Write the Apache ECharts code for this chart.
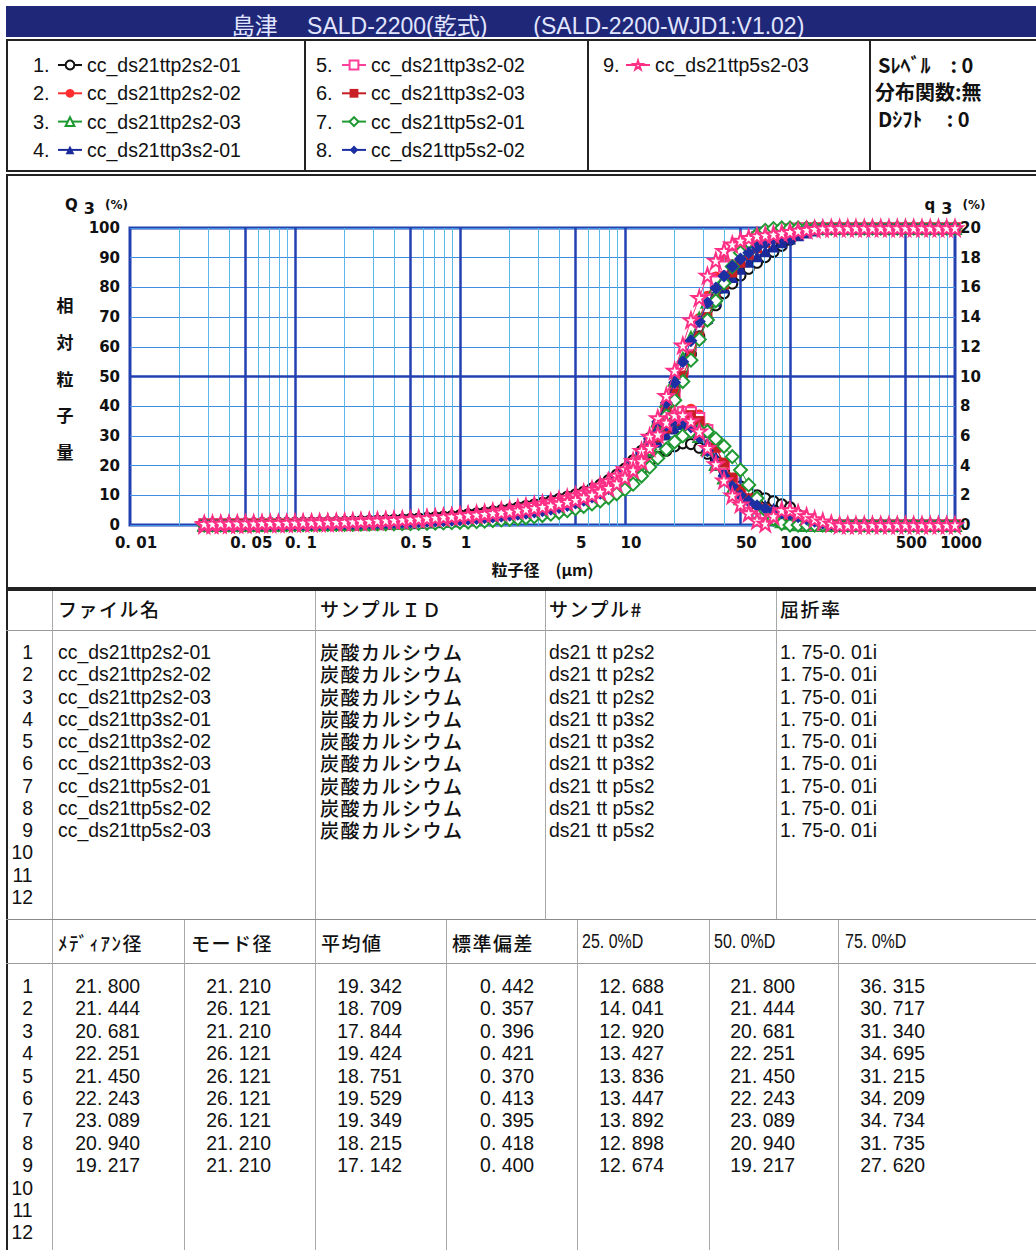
<!DOCTYPE html>
<html><head><meta charset="utf-8">
<script src="https://cdn.jsdelivr.net/npm/echarts@6.0.0/dist/echarts.min.js"></script>
<style>
html,body{margin:0;padding:0;background:#fff;}
body{width:1036px;height:1250px;position:relative;overflow:hidden;}
#chart{position:absolute;left:0;top:0;width:1036px;height:590px;}
#tables{position:absolute;left:0;top:0;width:1036px;height:1250px;pointer-events:none;}
.t{position:absolute;line-height:1;white-space:nowrap;color:#111;}
.n{font-family:"Liberation Sans",Arial,sans-serif;font-size:19.8px;height:20px;transform:translateY(-50%) scaleX(0.98);transform-origin:0 50%;}
.n.r{transform-origin:100% 50%;}
.nh{font-family:"Liberation Sans",Arial,sans-serif;font-size:19.5px;height:20px;transform:translateY(-50%) scaleX(0.82);transform-origin:0 50%;}
.j{font-family:"Noto Sans CJK JP",sans-serif;font-size:19px;height:19px;letter-spacing:1.5px;font-weight:500;transform:translateY(-50%);}
.jr{font-family:"Liberation Sans","Noto Sans CJK JP",sans-serif;font-size:19px;height:19px;letter-spacing:1.5px;font-weight:500;transform:translateY(-50%);}
.ln{position:absolute;}
</style></head>
<body>
<div id="chart"></div>
<div id="tables"></div>
<script>
// ---------------- data ----------------
const seriesNames = ['cc_ds21ttp2s2-01','cc_ds21ttp2s2-02','cc_ds21ttp2s2-03','cc_ds21ttp3s2-01','cc_ds21ttp3s2-02','cc_ds21ttp3s2-03','cc_ds21ttp5s2-01','cc_ds21ttp5s2-02','cc_ds21ttp5s2-03'];

// particle size channels (µm)
const sizes = [0.0282,0.0316,0.0355,0.0398,0.0447,0.0501,0.0562,0.0631,0.0708,0.0794,0.0891,
 0.1,0.112,0.126,0.141,0.158,0.178,0.2,0.224,0.251,0.282,
 0.316,0.355,0.398,0.447,0.501,0.562,0.631,0.708,0.794,0.891,
 1,1.12,1.26,1.41,1.58,1.78,2,2.24,2.51,2.82,3.16,3.55,3.98,4.47,5.01,5.62,6.31,7.08,7.94,8.91,
 10,11.2,12.6,14.1,15.8,17.8,20,22.4,25.1,28.2,31.6,35.5,39.8,44.7,50.1,56.2,63.1,70.8,79.4,89.1,
 100,112,126,141,158,178,200,224,251,282,316,355,398,447,501,562,631,708,794,891,1000];

// cumulative Q3 (%)
const Q1 = [0,0.05,0.1,0.15,0.2,0.25,0.3,0.35,0.4,0.45,0.5,
 0.55,0.6,0.65,0.7,0.8,0.9,1.0,1.1,1.2,1.3,
 1.4,1.55,1.7,1.85,2.0,2.2,2.4,2.6,2.8,3.0,
 3.3,3.6,3.9,4.2,4.6,5.0,5.4,5.9,6.4,6.9,7.5,8.1,8.8,9.5,10.3,11.2,12.3,13.6,15.1,16.9,
 19.0,21.8,25.0,29.3,34.0,39.5,45.5,51.5,57.5,63.5,69.0,74.0,78.0,81.3,84.0,86.3,88.3,90.2,92.0,94.0,
 96.0,98.0,99.3,99.8,100,100,100,100,100,100,100,100,100,100,100,100,100,100,100,100,100];
const Q2 = [0,0.03,0.06,0.09,0.12,0.15,0.18,0.21,0.24,0.27,0.3,
 0.33,0.36,0.4,0.44,0.48,0.52,0.57,0.62,0.68,0.74,
 0.8,0.87,0.95,1.03,1.12,1.22,1.33,1.45,1.58,1.72,
 1.9,2.1,2.3,2.5,2.75,3.0,3.3,3.6,3.95,4.3,4.7,5.2,5.7,6.3,7.0,7.8,8.7,9.8,11.1,12.7,
 14.6,17.0,20.5,25.0,30.5,37.0,44.5,52.5,61.0,69.5,77.0,83.5,88.5,92.0,94.5,96.2,97.4,98.3,98.9,99.3,
 99.6,99.8,99.9,100,100,100,100,100,100,100,100,100,100,100,100,100,100,100,100,100,100];
const Q3 = [0,0.03,0.06,0.09,0.12,0.15,0.18,0.21,0.24,0.27,0.3,
 0.33,0.36,0.4,0.44,0.48,0.52,0.57,0.62,0.68,0.74,
 0.8,0.87,0.95,1.03,1.12,1.22,1.33,1.45,1.58,1.72,
 1.85,2.05,2.25,2.45,2.7,2.95,3.25,3.55,3.9,4.3,4.75,5.25,5.85,6.5,7.3,8.2,9.3,10.6,12.2,14.1,
 16.4,19.6,23.9,29.2,35.2,41.8,48.9,56.0,63.0,69.5,75.2,80.2,84.6,88.2,91.3,93.8,95.7,97.0,98.0,98.7,
 99.2,99.6,99.9,100,100,100,100,100,100,100,100,100,100,100,100,100,100,100,100,100,100];
const Q4 = [0,0.03,0.05,0.07,0.09,0.11,0.13,0.15,0.18,0.21,0.24,
 0.27,0.3,0.33,0.36,0.4,0.44,0.48,0.52,0.57,0.62,
 0.67,0.73,0.79,0.86,0.93,1.01,1.1,1.2,1.31,1.45,
 1.6,1.8,2.0,2.2,2.4,2.65,2.9,3.2,3.5,3.85,4.25,4.7,5.2,5.8,6.5,7.3,8.2,9.3,10.6,12.2,
 14.2,17.0,21.5,26.8,32.3,38.0,44.0,50.3,56.8,63.5,69.8,75.5,80.0,83.5,86.3,88.6,90.5,92.2,93.8,95.2,
 96.5,97.6,98.5,99.2,99.7,99.9,100,100,100,100,100,100,100,100,100,100,100,100,100,100,100];
const Q5 = [0,0.03,0.06,0.09,0.12,0.15,0.18,0.21,0.24,0.27,0.3,
 0.33,0.36,0.4,0.44,0.48,0.52,0.57,0.62,0.68,0.74,
 0.8,0.87,0.95,1.03,1.12,1.22,1.33,1.45,1.58,1.72,
 1.9,2.1,2.3,2.5,2.75,3.0,3.3,3.6,3.95,4.35,4.8,5.3,5.85,6.5,7.2,8.0,8.9,10.0,11.3,12.9,
 14.8,17.3,20.8,25.5,31.0,37.2,44.3,52.3,60.5,68.5,75.8,82.0,87.0,90.8,93.6,95.6,97.0,98.0,98.7,99.2,
 99.6,99.8,99.9,100,100,100,100,100,100,100,100,100,100,100,100,100,100,100,100,100,100];
const Q6 = [0,0.03,0.05,0.07,0.09,0.11,0.13,0.15,0.18,0.21,0.24,
 0.27,0.3,0.33,0.36,0.4,0.44,0.48,0.52,0.57,0.62,
 0.67,0.73,0.79,0.86,0.93,1.01,1.1,1.2,1.31,1.45,
 1.55,1.75,1.95,2.15,2.35,2.6,2.85,3.15,3.45,3.8,4.2,4.65,5.15,5.75,6.45,7.25,8.15,9.25,10.55,12.15,
 14.2,16.9,21.0,26.3,32.0,38.0,44.2,50.3,56.8,63.5,70.0,76.0,81.0,85.0,88.3,91.0,93.2,95.0,96.5,97.6,
 98.5,99.1,99.6,99.9,100,100,100,100,100,100,100,100,100,100,100,100,100,100,100,100,100];
const Q7 = [0,0.02,0.04,0.06,0.08,0.1,0.12,0.14,0.16,0.18,0.2,
 0.22,0.24,0.27,0.3,0.33,0.36,0.4,0.44,0.48,0.53,
 0.58,0.64,0.7,0.77,0.85,0.93,1.02,1.12,1.23,1.35,
 1.5,1.65,1.8,2.0,2.2,2.4,2.65,2.9,3.2,3.5,3.85,4.25,4.7,5.2,5.8,6.5,7.3,8.3,9.5,10.9,
 13.0,16.2,20.5,25.5,31.0,36.8,42.0,48.3,55.5,62.5,69.0,75.5,81.5,87.0,91.7,95.3,97.8,99.2,99.8,100,
 100,100,100,100,100,100,100,100,100,100,100,100,100,100,100,100,100,100,100,100,100];
const Q8 = [0,0.03,0.06,0.09,0.12,0.15,0.18,0.21,0.24,0.27,0.3,
 0.33,0.36,0.4,0.44,0.48,0.52,0.57,0.62,0.68,0.74,
 0.8,0.87,0.95,1.03,1.12,1.22,1.33,1.45,1.58,1.72,
 1.9,2.1,2.3,2.5,2.75,3.0,3.3,3.6,3.95,4.35,4.8,5.3,5.9,6.6,7.4,8.3,9.4,10.7,12.3,14.2,
 16.5,19.5,24.0,29.0,34.8,41.2,48.0,55.0,62.0,68.5,74.8,79.8,83.8,87.0,89.6,91.7,93.4,94.9,96.2,97.3,
 98.2,98.9,99.4,99.7,99.9,100,100,100,100,100,100,100,100,100,100,100,100,100,100,100,100];
const Q9 = [0,0.05,0.1,0.15,0.2,0.25,0.3,0.35,0.4,0.45,0.5,
 0.55,0.6,0.65,0.7,0.75,0.8,0.9,1.0,1.1,1.2,
 1.3,1.45,1.6,1.75,1.9,2.1,2.3,2.5,2.7,2.9,
 3.2,3.5,3.8,4.1,4.5,4.9,5.3,5.8,6.3,6.8,7.3,7.9,8.5,9.2,10.0,10.9,12.0,13.3,14.8,16.6,
 18.8,21.6,25.0,29.8,36.0,43.5,52.0,60.5,69.0,76.5,84.0,89.0,92.3,94.5,95.8,96.7,97.3,97.6,97.9,98.3,
 98.7,99.1,99.4,99.7,99.9,100,100,100,100,100,100,100,100,100,100,100,100,100,100,100,100];

// frequency q3 (%)
const q1 = [0.1,0.1,0.1,0.11,0.11,0.12,0.12,0.13,0.13,0.14,0.14,
 0.15,0.16,0.17,0.18,0.19,0.2,0.21,0.23,0.25,0.27,
 0.29,0.31,0.33,0.36,0.39,0.42,0.45,0.48,0.52,0.56,
 0.6,0.64,0.68,0.73,0.78,0.84,0.9,0.97,1.04,1.12,1.2,1.29,1.39,1.5,1.62,1.76,1.92,2.1,2.32,2.58,
 2.9,3.3,3.75,4.2,4.6,5.0,5.3,5.5,5.45,5.2,4.8,4.3,3.7,3.1,2.6,2.25,2.0,1.8,1.6,1.4,
 1.2,0.7,0.3,0.1,0,0,0,0,0,0,0,0,0,0,0,0,0,0,0,0,0];
const q2 = [0.05,0.05,0.05,0.05,0.05,0.05,0.05,0.05,0.05,0.05,0.05,
 0.05,0.06,0.06,0.07,0.07,0.08,0.08,0.09,0.1,0.11,
 0.12,0.13,0.15,0.17,0.19,0.21,0.23,0.26,0.29,0.32,
 0.35,0.4,0.45,0.5,0.55,0.6,0.68,0.76,0.85,0.95,1.05,1.15,1.3,1.45,1.6,1.8,2.0,2.25,2.55,2.9,
 3.3,3.9,4.6,5.4,6.2,6.9,7.4,7.7,7.8,7.4,6.5,5.3,4.0,2.9,2.0,1.4,1.0,0.7,0.5,0.4,
 0.3,0.2,0.1,0,0,0,0,0,0,0,0,0,0,0,0,0,0,0,0,0,0];
const q3 = [0.05,0.05,0.05,0.05,0.05,0.05,0.05,0.05,0.05,0.05,0.05,
 0.06,0.06,0.07,0.07,0.08,0.08,0.09,0.09,0.1,0.11,
 0.12,0.13,0.15,0.17,0.19,0.21,0.23,0.25,0.28,0.31,
 0.35,0.4,0.45,0.5,0.56,0.62,0.7,0.8,0.9,1.0,1.12,1.25,1.4,1.55,1.7,1.9,2.15,2.45,2.8,3.2,
 3.7,4.3,5.0,5.7,6.3,6.8,7.0,7.0,6.7,6.0,5.1,4.1,3.2,2.4,1.8,1.3,0.9,0.6,0.4,0.25,
 0.15,0.05,0,0,0,0,0,0,0,0,0,0,0,0,0,0,0,0,0,0,0];
const q4 = [0.05,0.05,0.05,0.05,0.05,0.05,0.05,0.05,0.05,0.05,0.05,
 0.05,0.05,0.06,0.06,0.07,0.07,0.08,0.08,0.09,0.1,
 0.11,0.12,0.13,0.15,0.17,0.19,0.21,0.23,0.25,0.28,
 0.3,0.35,0.4,0.45,0.5,0.56,0.63,0.7,0.8,0.9,1.0,1.12,1.25,1.4,1.55,1.72,1.92,2.15,2.45,2.8,
 3.2,3.8,4.4,5.0,5.6,6.1,6.5,6.8,6.8,6.3,5.5,4.6,3.7,2.9,2.2,1.8,1.5,1.3,1.1,0.9,
 0.75,0.55,0.35,0.2,0.1,0,0,0,0,0,0,0,0,0,0,0,0,0,0,0,0];
const q5 = [0.06,0.06,0.06,0.06,0.06,0.06,0.06,0.06,0.06,0.06,0.06,
 0.06,0.07,0.07,0.08,0.08,0.09,0.1,0.11,0.12,0.13,
 0.14,0.15,0.17,0.19,0.21,0.23,0.25,0.28,0.31,0.33,
 0.35,0.4,0.45,0.5,0.56,0.62,0.7,0.78,0.87,0.97,1.08,1.2,1.34,1.5,1.66,1.85,2.05,2.3,2.6,2.95,
 3.4,4.0,4.7,5.4,6.1,6.8,7.3,7.6,7.6,7.2,6.4,5.3,4.1,3.0,2.1,1.5,1.1,0.8,0.6,0.45,
 0.3,0.2,0.1,0,0,0,0,0,0,0,0,0,0,0,0,0,0,0,0,0,0];
const q6 = [0.05,0.05,0.05,0.05,0.05,0.05,0.05,0.05,0.05,0.05,0.05,
 0.05,0.05,0.06,0.06,0.07,0.07,0.08,0.08,0.09,0.1,
 0.11,0.12,0.13,0.15,0.17,0.19,0.21,0.23,0.25,0.28,
 0.3,0.35,0.4,0.45,0.5,0.56,0.63,0.7,0.8,0.9,1.0,1.12,1.25,1.4,1.56,1.74,1.95,2.2,2.5,2.85,
 3.3,3.85,4.5,5.2,5.9,6.5,7.0,7.3,7.4,7.0,6.2,5.2,4.2,3.2,2.4,1.8,1.4,1.1,0.8,0.6,
 0.45,0.3,0.15,0.05,0,0,0,0,0,0,0,0,0,0,0,0,0,0,0,0,0];
const q7 = [0.03,0.03,0.03,0.03,0.03,0.03,0.03,0.03,0.03,0.03,0.03,
 0.03,0.03,0.04,0.04,0.04,0.05,0.05,0.05,0.06,0.06,
 0.07,0.08,0.08,0.09,0.1,0.11,0.12,0.13,0.14,0.16,
 0.18,0.2,0.23,0.26,0.3,0.34,0.38,0.43,0.49,0.56,0.64,0.73,0.84,0.97,1.1,1.25,1.42,1.62,1.85,2.1,
 2.4,2.75,3.3,3.9,4.5,5.1,5.6,6.0,6.3,6.4,6.3,5.8,5.3,4.6,3.7,2.7,1.8,1.0,0.4,0.1,
 0,0,0,0,0,0,0,0,0,0,0,0,0,0,0,0,0,0,0,0,0];
const q8 = [0.06,0.06,0.06,0.06,0.06,0.06,0.06,0.06,0.06,0.06,0.06,
 0.06,0.07,0.07,0.08,0.08,0.09,0.1,0.11,0.12,0.13,
 0.14,0.15,0.17,0.19,0.21,0.23,0.25,0.28,0.31,0.33,
 0.35,0.4,0.45,0.5,0.56,0.62,0.7,0.78,0.87,0.97,1.08,1.2,1.34,1.5,1.67,1.87,2.1,2.4,2.75,3.15,
 3.65,4.25,4.9,5.6,6.2,6.7,7.0,7.0,6.6,5.9,5.0,4.1,3.3,2.6,2.0,1.6,1.3,1.1,0.95,0.8,
 0.7,0.55,0.4,0.25,0.12,0.05,0,0,0,0,0,0,0,0,0,0,0,0,0,0,0];
const q9 = [0.08,0.09,0.1,0.1,0.11,0.12,0.12,0.13,0.14,0.14,0.15,
 0.16,0.17,0.18,0.19,0.2,0.21,0.22,0.24,0.26,0.28,
 0.3,0.32,0.34,0.37,0.4,0.43,0.46,0.5,0.54,0.58,
 0.62,0.66,0.7,0.75,0.8,0.86,0.92,0.99,1.06,1.14,1.23,1.33,1.44,1.56,1.7,1.86,2.04,2.25,2.5,2.8,
 3.2,3.7,4.3,5.2,6.1,6.9,7.4,7.4,7.0,6.3,5.2,4.1,3.0,2.0,1.4,0.8,0.3,0.1,0.6,1.0,
 1.0,0.8,0.6,0.4,0.25,0.1,0,0,0,0,0,0,0,0,0,0,0,0,0,0,0];

// axis ticks
const xTickValues = [0.01,0.05,0.1,0.5,1,5,10,50,100,500,1000];
const xTickLabels = ['0. 01','0. 05','0. 1','0. 5','1','5','10','50','100','500','1000'];
const minorX = [0.02,0.03,0.04,0.06,0.07,0.08,0.09,0.2,0.3,0.4,0.6,0.7,0.8,0.9,2,3,4,6,7,8,9,20,30,40,60,70,80,90,200,300,400,600,700,800,900];
const majorX = [0.05,0.1,0.5,1,5,10,50,100,500];

// table data
const rowNumbers = ['1','2','3','4','5','6','7','8','9','10','11','12'];
const sampleIds = ['炭酸カルシウム','炭酸カルシウム','炭酸カルシウム','炭酸カルシウム','炭酸カルシウム','炭酸カルシウム','炭酸カルシウム','炭酸カルシウム','炭酸カルシウム'];
const sampleNos = ['ds21 tt p2s2','ds21 tt p2s2','ds21 tt p2s2','ds21 tt p3s2','ds21 tt p3s2','ds21 tt p3s2','ds21 tt p5s2','ds21 tt p5s2','ds21 tt p5s2'];
const refractive = ['1. 75-0. 01i','1. 75-0. 01i','1. 75-0. 01i','1. 75-0. 01i','1. 75-0. 01i','1. 75-0. 01i','1. 75-0. 01i','1. 75-0. 01i','1. 75-0. 01i'];
const medianD = [21.800,21.444,20.681,22.251,21.450,22.243,23.089,20.940,19.217];
const modeD = [21.210,26.121,21.210,26.121,26.121,26.121,26.121,21.210,21.210];
const meanV = [19.342,18.709,17.844,19.424,18.751,19.529,19.349,18.215,17.142];
const stdDev = [0.442,0.357,0.396,0.421,0.370,0.413,0.395,0.418,0.400];
const d25 = [12.688,14.041,12.920,13.427,13.836,13.447,13.892,12.898,12.674];
const d50 = [21.800,21.444,20.681,22.251,21.450,22.243,23.089,20.940,19.217];
const d75 = [36.315,30.717,31.340,34.695,31.215,34.209,34.734,31.735,27.620];

// --------------- build ---------------
const cumList = [Q1,Q2,Q3,Q4,Q5,Q6,Q7,Q8,Q9];
const freqList = [q1,q2,q3,q4,q5,q6,q7,q8,q9];
cumList.concat(freqList).forEach((a,i)=>{ if(a.length!==sizes.length) throw new Error('length mismatch '+i+': '+a.length); });

const SANS = '"Liberation Sans",Arial,sans-serif';
const CJK = '"Noto Sans CJK JP",sans-serif';
const STAR = 'path://M50,2 L61,36 L97,36 L68,57 L79,92 L50,71 L21,92 L32,57 L3,36 L39,36 Z';
const styles = [
 {symbol:'emptyCircle', color:'#111111', size:10},
 {symbol:'circle', color:'#ff2d2d', size:11},
 {symbol:'emptyTriangle', color:'#1f9a32', size:12},
 {symbol:'triangle', color:'#1b2a9a', size:12},
 {symbol:'emptyRect', color:'#ff3f9a', size:10},
 {symbol:'rect', color:'#c81e24', size:10},
 {symbol:'emptyDiamond', color:'#1f9a32', size:13},
 {symbol:'diamond', color:'#1c2fa3', size:13},
 {symbol:STAR, color:'#ff2f86', size:15, hollow:true}
];

const series = [];
// grid lines through the axis scales
series.push({
  type:'line', name:'grid', data:[], z:1, silent:true,
  markLine:{silent:true, symbol:['none','none'], label:{show:false}, animation:false,
    data: minorX.map(v=>({xAxis:v, lineStyle:{color:'#5ab8ea', width:1, type:'solid'}}))
      .concat(majorX.map(v=>({xAxis:v, lineStyle:{color:'#2340b0', width:2.5, type:'solid'}})))
      .concat([{yAxis:50, lineStyle:{color:'#2340b0', width:2.5, type:'solid'}}])
  }
});
seriesNames.forEach((nm,i)=>{
  const st = styles[i];
  const itemStyle = st.hollow ? {color:'#ffffff', borderColor:st.color, borderWidth:2} : {color:st.color, borderWidth:1.5};
  const base = {name:nm, type:'line', symbol:st.symbol, symbolSize:st.size, showSymbol:true, clip:false,
    itemStyle:itemStyle, lineStyle:{color:st.color, width:1}, z:2+i, emphasis:{disabled:true}};
  series.push(Object.assign({}, base, {yAxisIndex:0, data:sizes.map((s,k)=>[s,cumList[i][k]])}));
  series.push(Object.assign({}, base, {yAxisIndex:1, data:sizes.map((s,k)=>[s,freqList[i][k]])}));
});

const legendCommon = {orient:'vertical', itemWidth:24, itemHeight:11, itemGap:6.3, padding:0,
  textStyle:{fontFamily:SANS, fontSize:19.5, color:'#111', lineHeight:22}, selectedMode:false};

const graphic = [
  {type:'rect', z:0, shape:{x:6,y:6,width:1040,height:31}, style:{fill:'#1f2878'}},
  {type:'rect', z:0, shape:{x:7,y:40,width:1040,height:131}, style:{fill:'none', stroke:'#222', lineWidth:2}},
  {type:'line', shape:{x1:305,y1:40,x2:305,y2:171}, style:{stroke:'#222', lineWidth:2}},
  {type:'line', shape:{x1:588,y1:40,x2:588,y2:171}, style:{stroke:'#222', lineWidth:2}},
  {type:'line', shape:{x1:870,y1:40,x2:870,y2:171}, style:{stroke:'#222', lineWidth:2}},
  {type:'rect', z:0, shape:{x:7,y:175,width:1040,height:413}, style:{fill:'none', stroke:'#222', lineWidth:2}},
  {type:'text', x:65, y:378, style:{text:'相\n対\n粒\n子\n量', font:'bold 17px "Noto Sans CJK JP"', fill:'#111', align:'center', verticalAlign:'middle', lineHeight:36.7}},
  {type:'text', x:878, y:64, style:{text:'Sﾚﾍﾞﾙ　: 0', font:'bold 20px "Noto Sans CJK JP"', fill:'#111', verticalAlign:'middle'}},
  {type:'text', x:875, y:91, style:{text:'分布関数:無', font:'bold 20px "Noto Sans CJK JP"', fill:'#111', verticalAlign:'middle'}},
  {type:'text', x:878, y:118, style:{text:'Dｼﾌﾄ　 : 0', font:'bold 20px "Noto Sans CJK JP"', fill:'#111', verticalAlign:'middle'}}
];
const numPos = [[33,65],[33,93.3],[33,121.6],[33,150],[316,65],[316,93.3],[316,121.6],[316,150],[603,65]];
numPos.forEach((p,i)=>graphic.push({type:'text', x:p[0], y:p[1], style:{text:(i+1)+'.', font:'20px "Liberation Sans"', fill:'#111', verticalAlign:'middle'}}));

const option = {
  animation:false,
  backgroundColor:'#ffffff',
  title:{text:'島津　 SALD-2200(乾式)　　(SALD-2200-WJD1:V1.02)', left:'center', top:9,
    textStyle:{color:'#e2e5ff', fontSize:23, fontWeight:'normal', fontFamily:'"Liberation Sans","Noto Sans CJK JP",sans-serif'}},
  graphic:graphic,
  legend:[
    Object.assign({}, legendCommon, {left:57, top:54, data:seriesNames.slice(0,4)}),
    Object.assign({}, legendCommon, {left:341, top:54, data:seriesNames.slice(4,8)}),
    Object.assign({}, legendCommon, {left:625, top:54, data:seriesNames.slice(8)})
  ],
  grid:{left:130, top:228, width:825, height:297, show:true, borderColor:'#2340b0', borderWidth:3, backgroundColor:'transparent'},
  xAxis:{type:'log', logBase:10, min:0.01, max:1000,
    name:'粒子径　(μm)', nameLocation:'middle', nameGap:36,
    nameTextStyle:{fontFamily:CJK, fontSize:16, fontWeight:'bold', color:'#111'},
    axisLine:{show:false}, axisTick:{show:false}, splitLine:{show:false},
    axisLabel:{customValues:xTickValues, fontFamily:'"DejaVu Sans",sans-serif', fontSize:15, fontWeight:'bold', color:'#111', margin:10, padding:[0,0,0,12],
      formatter:function(v){ let bi=0, bd=1e9; xTickValues.forEach((t,i)=>{ const d=Math.abs(Math.log10(t)-Math.log10(v)); if(d<bd){bd=d;bi=i;} }); return bd<0.01 ? xTickLabels[bi] : ''; }}
  },
  yAxis:[
    {type:'value', min:0, max:100, interval:10, position:'left',
      name:'{q|Q}{s|3}{p| (%)}', nameLocation:'end', nameGap:12,
      nameTextStyle:{align:'right', padding:[0,2,0,0], rich:{q:{fontSize:15, fontWeight:'bold', color:'#111', fontFamily:'"DejaVu Sans"'}, s:{fontSize:16, fontWeight:'bold', color:'#111', padding:[6,6,0,6], fontFamily:'"DejaVu Sans"'}, p:{fontSize:12, fontWeight:'bold', color:'#111', fontFamily:'"DejaVu Sans"'}}},
      axisLine:{show:false}, axisTick:{show:false},
      splitLine:{show:true, lineStyle:{color:'#3f8fe0', width:1}},
      axisLabel:{fontFamily:'"DejaVu Sans",sans-serif', fontSize:15, fontWeight:'bold', color:'#111', margin:10}},
    {type:'value', min:0, max:20, interval:2, position:'right',
      name:'{q|q}{s|3}{p| (%)}', nameLocation:'end', nameGap:12,
      nameTextStyle:{align:'center', rich:{q:{fontSize:15, fontWeight:'bold', color:'#111', fontFamily:'"DejaVu Sans"'}, s:{fontSize:16, fontWeight:'bold', color:'#111', padding:[6,6,0,6], fontFamily:'"DejaVu Sans"'}, p:{fontSize:12, fontWeight:'bold', color:'#111', fontFamily:'"DejaVu Sans"'}}},
      axisLine:{show:false}, axisTick:{show:false}, splitLine:{show:false},
      axisLabel:{fontFamily:'"DejaVu Sans",sans-serif', fontSize:15, fontWeight:'bold', color:'#111', margin:5}}
  ],
  series:series
};
const chart = echarts.init(document.getElementById('chart'), null, {renderer:'svg'});
chart.setOption(option);

// --------------- tables (HTML) ---------------
const T = document.getElementById('tables');
function txt(x,y,s,cls,right){ const d=document.createElement('div'); d.className='t '+cls+(right?' r':''); d.textContent=s;
  if(right){ d.style.right=(1036-x)+'px'; } else { d.style.left=x+'px'; } d.style.top=y+'px'; T.appendChild(d); }
function hl(x,y,w,c,t){ const d=document.createElement('div'); d.className='ln'; d.style.cssText='left:'+x+'px;top:'+y+'px;width:'+w+'px;height:'+t+'px;background:'+c; T.appendChild(d); }
function vl(x,y,h,c,t){ const d=document.createElement('div'); d.className='ln'; d.style.cssText='left:'+x+'px;top:'+y+'px;width:'+t+'px;height:'+h+'px;background:'+c; T.appendChild(d); }
const fmt = v => v.toFixed(3).replace('.', '. ');

// frame
vl(6,589,661,'#222',2);
hl(6,589,1030,'#222',2);
hl(6,630,1030,'#9a9a9a',1);
hl(6,919,1030,'#8a8a8a',1);
hl(6,963,1030,'#9a9a9a',1);
[52,315,545,776].forEach(x=>vl(x,591,328,'#a8a8a8',1));
[52,184,315,446,577,709,838].forEach(x=>vl(x,920,330,'#a8a8a8',1));

// table 1
const t1Heads = [['ファイル名',58],['サンプルＩＤ',320],['サンプル#',549],['屈折率',780]];
t1Heads.forEach(h=>txt(h[1],608,h[0],'j'));
for(let r=0;r<rowNumbers.length;r++){
  const y = 653 + r*22.27;
  txt(33,y,rowNumbers[r],'n',true);
  if(r<seriesNames.length){
    txt(58,y,seriesNames[r],'n');
    txt(320,y,sampleIds[r],'jr');
    txt(549,y,sampleNos[r],'n');
    txt(780,y,refractive[r],'n');
  }
}
// table 2
const t2Heads = [['ﾒﾃﾞｨｱﾝ径',58],['モード径',191],['平均値',321],['標準偏差',452],['25. 0%D',582],['50. 0%D',714],['75. 0%D',845]];
t2Heads.forEach(h=>txt(h[1],942,h[0], h[0].indexOf('%D')>=0 ? 'nh' : 'j'));
const cols = [[medianD,140],[modeD,271],[meanV,402],[stdDev,534],[d25,664],[d50,795],[d75,925]];
for(let r=0;r<rowNumbers.length;r++){
  const y = 987 + r*22.4;
  txt(33,y,rowNumbers[r],'n',true);
  if(r<medianD.length){ cols.forEach(c=>txt(c[1],y,fmt(c[0][r]),'n',true)); }
}
</script>
</body></html>
